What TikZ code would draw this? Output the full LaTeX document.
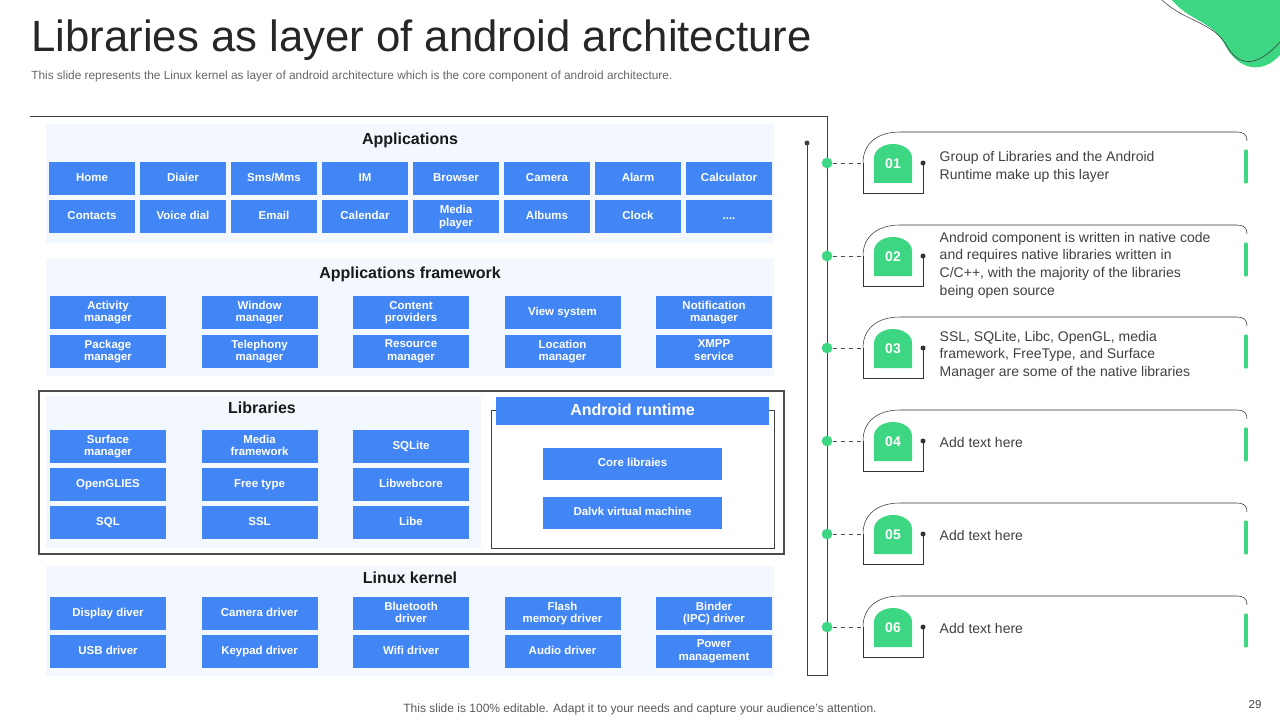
\documentclass[tikz,border=0pt]{standalone}
\usepackage{fontspec}
\setmainfont{Liberation Sans}
\usepackage{tikz}
\usetikzlibrary{calc}
\definecolor{blueA}{HTML}{4285F4}
\definecolor{greenA}{HTML}{3DD683}
\definecolor{panel}{HTML}{F3F8FE}
\definecolor{txt}{HTML}{404040}
\newcommand\moredots{....}
\tikzset{
  blk/.style={fill=blueA,text=white,font=\bfseries\fontsize{8.6}{9.4}\selectfont,align=center,inner sep=0pt,minimum height=24.75pt,minimum width=#1,execute at begin node={\vphantom{Ag}}},
  blk/.default=64.5pt,
  head/.style={font=\bfseries\fontsize{12}{14}\selectfont,text=black!90},
  cardtxt/.style={anchor=west,font=\fontsize{10.5}{13.2}\selectfont,text=txt,align=left}
}
\begin{document}
\begin{tikzpicture}[x=0.75pt,y=-0.75pt]
\useasboundingbox (0,0) rectangle (1280,720);
%% blob top right
\fill[greenA] (1172,0) .. controls (1190,22) and (1212,20) .. (1225,45) .. controls (1238,70) and (1262,75) .. (1280,55) -- (1280,0) -- cycle;
\draw[black!80,thin] (1162,0) .. controls (1185,22) and (1215,22) .. (1228,48) .. controls (1238,64) and (1255,70) .. (1280,42);
%% title
\node[anchor=base west,inner sep=0pt,font=\fontsize{32.8}{36}\selectfont,text=black!85] (title) at (31,52) {Libraries as layer of android architecture};
\node[anchor=west,inner sep=0pt,font=\fontsize{8.9}{10}\selectfont,text=black!60] (sub) at (31,76) {This slide represents the Linux kernel as layer of android architecture which is the core component of android architecture.};
%% frame
\draw[black!75] (30,116) -- (827,116) -- (827,675) -- (807,675) -- (807,143) coordinate (top);
\fill[black!75] (top) circle (2.5);
%% Applications
\fill[panel] (46,124) rectangle (774,243);
\node[head] (apps) at (410,140) {Applications};
\foreach \t [count=\i from 0] in {Home,Diaier,Sms/Mms,IM,Browser,Camera,Alarm,Calculator}
  \node[blk] (a1\i) at (92+91*\i,178.5) {\t};
\foreach \t [count=\i from 0] in {Contacts,Voice dial,Email,Calendar,Media\\player,Albums,Clock,\moredots}
  \node[blk] (a2\i) at (92+91*\i,217) {\t};
%% Framework
\fill[panel] (46,258) rectangle (774,376);
\node[head] (fw) at (410,274) {Applications framework};
\foreach \t [count=\i from 0] in {Activity\\manager,Window\\manager,Content\\providers,View  system,Notification\\manager}
  \node[blk=87pt] (f1\i) at (108+151.5*\i,312.5) {\t};
\foreach \t [count=\i from 0] in {Package\\manager,Telephony\\manager,Resource\\manager,Location\\manager,XMPP\\service}
  \node[blk=87pt] (f2\i) at (108+151.5*\i,351.5) {\t};
%% Libraries
\fill[panel] (46,396) rectangle (481,548);
\draw[black!70,line width=2.2pt] (39,391) rectangle (784,554);
\node[head] (libs) at (262,408) {Libraries};
\foreach \t [count=\i from 0] in {Surface\\manager,Media\\framework,SQLite}
  \node[blk=87pt] (l1\i) at (108+151.5*\i,446.5) {\t};
\foreach \t [count=\i from 0] in {OpenGLIES,Free type,Libwebcore}
  \node[blk=87pt] (l2\i) at (108+151.5*\i,484.5) {\t};
\foreach \t [count=\i from 0] in {SQL,SSL,Libe}
  \node[blk=87pt] (l3\i) at (108+151.5*\i,522.5) {\t};
%% Android runtime
\draw[black!75] (491,410) rectangle (774,548);
\node[blk=204.75pt,minimum height=21pt,font=\bfseries\fontsize{12}{14}\selectfont] (rt) at (632.5,411) {Android runtime};
\node[blk=134.25pt,minimum height=24pt] (core) at (632.5,464) {Core libraies};
\node[blk=134.25pt,minimum height=24pt] (dvm) at (632.5,513) {Dalvk virtual machine};
%% Linux kernel
\fill[panel] (46,566) rectangle (774,676);
\node[head] (lk) at (410,578) {Linux kernel};
\foreach \t [count=\i from 0] in {Display  diver,Camera driver,Bluetooth\\driver,Flash\\memory driver,Binder\\(IPC) driver}
  \node[blk=87pt] (k1\i) at (108+151.5*\i,613.5) {\t};
\foreach \t [count=\i from 0] in {USB driver,Keypad  driver,Wifi  driver,Audio driver,Power\\management}
  \node[blk=87pt] (k2\i) at (108+151.5*\i,651.5) {\t};
%% cards
\foreach \c/\n/\dy/\t in {163/01/4/{Group of Libraries and the Android\\Runtime make up this layer},
  256/02/9/{Android  component is written in native  code\\and requires native  libraries written in\\C/C++, with the majority of the libraries\\being open source},
  348/03/7/{SSL, SQLite, Libc, OpenGL, media\\framework, FreeType, and Surface\\Manager  are some of the native libraries},
  441/04/1/{Add text here},534/05/1/{Add text here},627/06/1/{Add text here}}{
  \draw[black!80] (863,\c) -- (863,\c+30) -- (923,\c+30) -- (923,\c) coordinate (e\n);
  \draw[black!80] (863,\c) .. controls (863,\c-20) and (878,\c-31) .. (900,\c-31) -- (1237,\c-31) .. controls (1244,\c-31) and (1247,\c-28) .. (1247,\c-22);
  \fill[black!80] (e\n) circle (2.5);
  \fill[greenA] (874,\c+20) -- (874,\c-5) arc (180:360:19 and 14) -- (912,\c+20) -- cycle;
  \node[text=white,font=\bfseries\fontsize{10.5}{12}\selectfont] (b\n) at (893,\c+1) {\n};
  \node[circle,fill=greenA,inner sep=0pt,minimum size=8pt] (d\n) at (827,\c) {};
  \draw[dashed,black!70] (d\n) -- (863,\c);
  \draw[greenA,line width=2.5pt,line cap=round] (1246,\c-12) -- (1246,\c+19);
  \node[cardtxt] (t\n) at (935,\c+\dy) {\t};
}
%% footer
\node[font=\fontsize{9}{10}\selectfont,text=black!65] (foot) at (640,709) {This slide is 100\% editable. Adapt it to your needs and capture your audience's attention.};
\node[font=\fontsize{8.6}{10}\selectfont,text=black!75] (pg) at (1255,705) {29};
\end{tikzpicture}
\end{document}
